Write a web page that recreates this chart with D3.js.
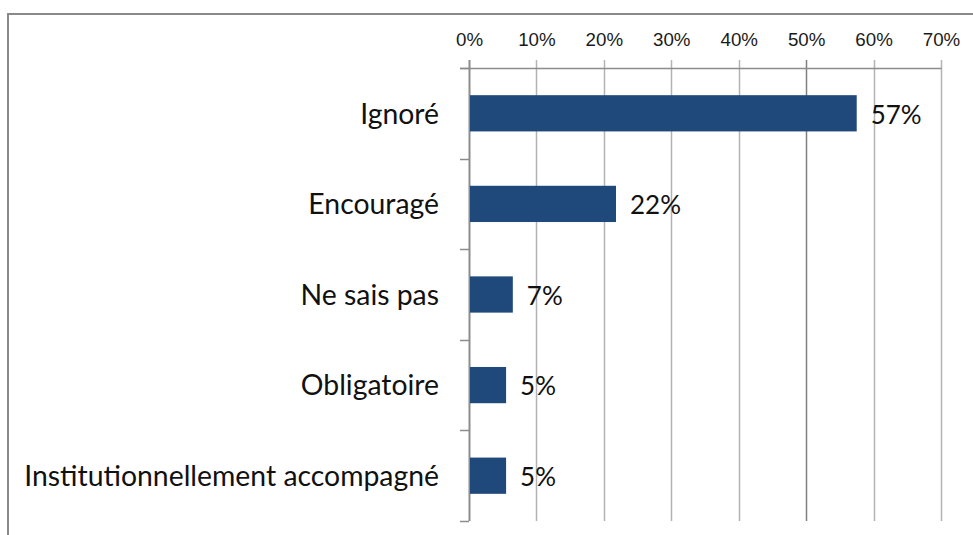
<!DOCTYPE html>
<html>
<head>
<meta charset="utf-8">
<script src="https://cdn.jsdelivr.net/npm/d3@7"></script>
<style>
  body { margin: 0; background: #fff; }
  svg { display: block; font-family: Lato, "Open Sans", sans-serif; }
</style>
</head>
<body>
<svg id="chart"></svg>
<script>
const categories = ['Ignoré', 'Encouragé', 'Ne sais pas', 'Obligatoire', 'Institutionnellement accompagné'];
const values = [57.5, 21.8, 6.5, 5.5, 5.5];
const valueLabels = ['57%', '22%', '7%', '5%', '5%'];
const tickValues = [0, 10, 20, 30, 40, 50, 60, 70];

const width = 973;
const height = 535;
const margin = { top: 68, right: 32, bottom: 14, left: 469 };
const innerW = width - margin.left - margin.right;
const innerH = height - margin.top - margin.bottom;

// scale a text selection so its widest item matches a target width
const fitFont = (sel, base, target) => {
  sel.attr('font-size', base);
  let w = 0;
  sel.each(function () { w = Math.max(w, this.getComputedTextLength()); });
  const size = w > 0 ? base * target / w : base;
  sel.attr('font-size', size);
  return size;
};

const svg = d3.select('#chart')
  .attr('width', width)
  .attr('height', height);

// outer frame of the chart area
svg.append('rect')
  .attr('x', 8)
  .attr('y', 14)
  .attr('width', width + 20)
  .attr('height', height + 20)
  .attr('fill', 'none')
  .attr('stroke', '#898989')
  .attr('stroke-width', 2);

const xScale = d3.scaleLinear().domain([0, 70]).range([0, innerW]);
const yScale = d3.scaleBand().domain(categories).range([0, innerH]).paddingInner(0.6).paddingOuter(0.3);

const g = svg.append('g')
  .attr('transform', `translate(${margin.left}, ${margin.top})`);

// gridlines
g.selectAll('.grid')
  .data(tickValues.slice(1))
  .enter().append('line')
  .attr('class', 'grid')
  .attr('x1', d => Math.round(xScale(d)) + 0.5)
  .attr('x2', d => Math.round(xScale(d)) + 0.5)
  .attr('y1', -8)
  .attr('y2', innerH)
  .attr('stroke', d => (d === 50 ? '#808080' : '#b3b3b3'))
  .attr('stroke-width', 1.5);

// top axis
const xAxis = d3.axisTop(xScale)
  .tickValues(tickValues)
  .tickFormat(d => `${d}%`)
  .tickSize(8)
  .tickPadding(14);

const axisTop = g.append('g')
  .attr('class', 'axis axis--x')
  .call(xAxis);
axisTop.select('.domain')
  .attr('d', `M-9,0.5H${innerW + 0.5}`)
  .attr('stroke', '#8c8c8c')
  .attr('stroke-width', 1.5);
axisTop.selectAll('.tick line').remove();
const tickText = axisTop.selectAll('.tick text')
  .attr('fill', '#1a1a1a');
fitFont(tickText, 20, 37.5);

// category axis with boundary ticks
const yAxis = g.append('g').attr('class', 'axis axis--y');
yAxis.append('line')
  .attr('x1', 0.5).attr('x2', 0.5)
  .attr('y1', -8).attr('y2', innerH)
  .attr('stroke', '#8c8c8c')
  .attr('stroke-width', 2);
const bounds = d3.range(categories.length + 1).map(i => Math.round(i * innerH / categories.length));
yAxis.selectAll('.bound')
  .data(bounds)
  .enter().append('line')
  .attr('class', 'bound')
  .attr('x1', -9).attr('x2', 0)
  .attr('y1', d => d + 0.5).attr('y2', d => d + 0.5)
  .attr('stroke', '#8c8c8c')
  .attr('stroke-width', 1.5);

const catText = yAxis.selectAll('.cat')
  .data(categories)
  .enter().append('text')
  .attr('class', 'cat')
  .attr('x', -30)
  .attr('y', d => yScale(d) + yScale.bandwidth() / 2)
  .attr('dy', '0.36em')
  .attr('text-anchor', 'end')
  .attr('fill', '#111')
  .text(d => d);
fitFont(catText, 22, 415);

// bars
g.selectAll('.bar')
  .data(categories)
  .enter().append('rect')
  .attr('class', 'bar')
  .attr('x', 1)
  .attr('y', d => yScale(d))
  .attr('width', (d, i) => xScale(values[i]) - 1)
  .attr('height', yScale.bandwidth())
  .attr('fill', '#20497b');

// value labels
const valText = g.selectAll('.val')
  .data(categories)
  .enter().append('text')
  .attr('class', 'val')
  .attr('x', (d, i) => xScale(values[i]) + 14)
  .attr('y', d => yScale(d) + yScale.bandwidth() / 2)
  .attr('dy', '0.4em')
  .attr('fill', '#111')
  .text((d, i) => valueLabels[i]);
fitFont(valText, 24, 51);
</script>
</body>
</html>
